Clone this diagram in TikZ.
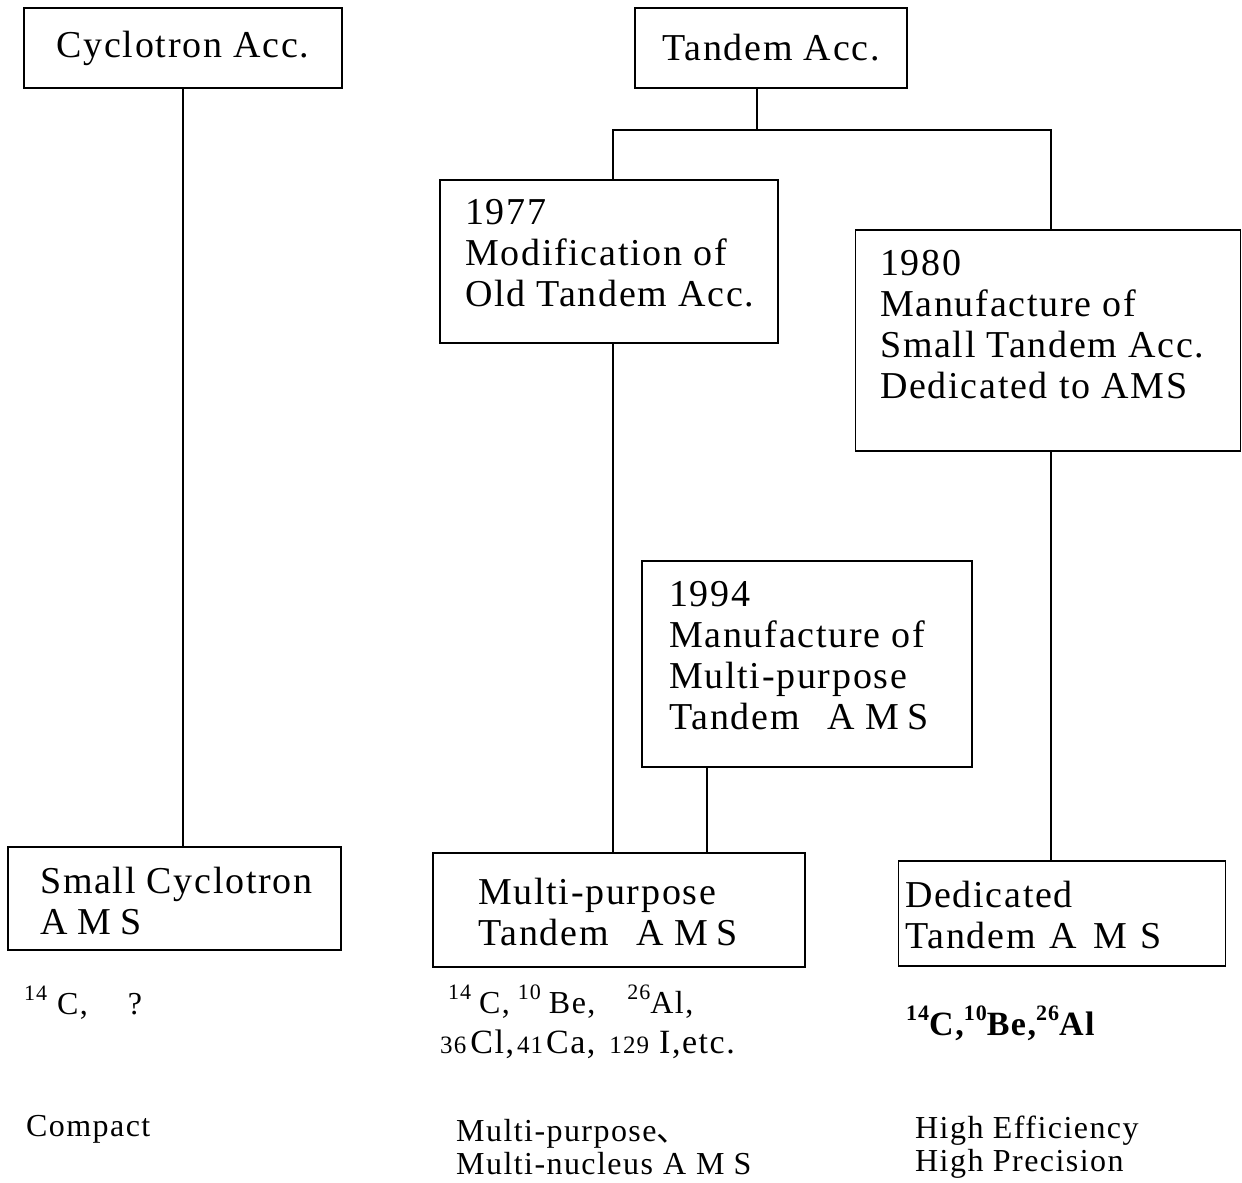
\documentclass[tikz,border=0pt]{standalone}
\usepackage{fontspec}
\setmainfont{Liberation Serif}[LetterSpace=4.5]
\newfontfamily\cjk{Noto Sans CJK JP}
\newcommand\upnum[1]{\raisebox{0.42em}{\fontsize{22}{22}\selectfont #1}}
\newcommand\lownum[1]{{\fontsize{25}{25}\selectfont #1}}
\newcommand\spAMS{A\hspace{10pt}M\hspace{9pt}S}
\newcommand\boxfont{\fontsize{38}{41}\selectfont}
\newcommand\lblfont{\fontsize{32}{33}\selectfont}
\begin{document}
\begin{tikzpicture}[x=1pt,y=-1pt,
  box/.style={draw,line width=1.7pt,inner sep=0pt,font=\boxfont},
  txt/.style={inner sep=0pt,anchor=base west,align=left,font=\boxfont},
  lbl/.style={inner sep=0pt,anchor=base west,align=left,font=\lblfont},
  conn/.style={line width=1.7pt}]
\path[use as bounding box] (0,0) rectangle (1242,1183);
% boxes
\node[box,minimum width=318pt,minimum height=80pt] (cyc) at (183,48) {Cyclotron Acc.};
\node[box,minimum width=272pt,minimum height=80pt] (tan) at (771,48) {Tandem Acc.};
\node[box,minimum width=338pt,minimum height=163pt] (b77) at (609,261.5) {};
\node[box,minimum width=385pt,minimum height=221pt] (b80) at (1048,340.5) {};
\node[box,minimum width=330pt,minimum height=206pt] (b94) at (807,664) {};
\node[box,minimum width=333pt,minimum height=103pt] (smc) at (174.5,898.5) {};
\node[box,minimum width=372pt,minimum height=114pt] (mp) at (619,910) {};
\node[box,minimum width=327pt,minimum height=105pt] (ded) at (1062,913.5) {};
% box texts (anchored at the baseline of the last line)
\node[txt] (t77) at (465,306) {1977\\Modification of\\Old Tandem Acc.};
\node[txt] (t80) at (880,398) {1980\\Manufacture of\\Small Tandem Acc.\\Dedicated to AMS};
\node[txt] (t94) at (669,729) {1994\\Manufacture of\\Multi-purpose\\Tandem\hspace{28pt}\spAMS};
\node[txt] (tsmc) at (40,934) {Small Cyclotron\\\spAMS};
\node[txt] (tmp) at (478,945) {Multi-purpose\\Tandem\hspace{28pt}\spAMS};
\node[txt] (tded) at (905,948) {Dedicated\\Tandem\hspace{14pt}A\hspace{16pt}M\hspace{14pt}S};
% connectors
\coordinate (jt) at (757,130);
\coordinate (jl) at (613,130);
\coordinate (jr) at (1051,130);
\coordinate (j94) at (707,0);
\draw[conn] (cyc.south) -- (cyc.south |- smc.north);
\draw[conn] (jt |- tan.south) -- (jt);
\draw[conn] (jl |- b77.north) -- (jl) -- (jr) -- (jr |- b80.north);
\draw[conn] (jl |- b77.south) -- (jl |- mp.north);
\draw[conn] (j94 |- b94.south) -- (j94 |- mp.north);
\draw[conn] (jr |- b80.south) -- (jr |- ded.north);
% labels below
\node[lbl] (l1a) at (24,1014) {\upnum{14}\hspace{10pt}C,\hspace{40pt}?};
\node[lbl] (l1b) at (26,1136) {Compact};
\node[lbl] (l2a) at (448,1013) {\upnum{14}\hspace{8pt}C,\hspace{8pt}\upnum{10}\hspace{8pt}Be,\hspace{32pt}\upnum{26}Al,};
\node[lbl,font=\fontsize{34}{34}\selectfont] (l2c) at (440,1053) {\lownum{36}\hspace{4pt}Cl,\hspace{3pt}\lownum{41}\hspace{3pt}Ca,\hspace{14pt}\lownum{129}\hspace{10pt}I,etc.};
\node[lbl] (l2b) at (456,1174) {Multi-purpose{\cjk 、}\\Multi-nucleus\hspace{10pt}\spAMS};
\node[lbl,font=\fontsize{34}{34}\selectfont\bfseries] (l3a) at (906,1035) {\upnum{14}C,\upnum{10}Be,\upnum{26}Al};
\node[lbl] (l3b) at (915,1171) {High Efficiency\\High Precision};
\end{tikzpicture}
\end{document}
